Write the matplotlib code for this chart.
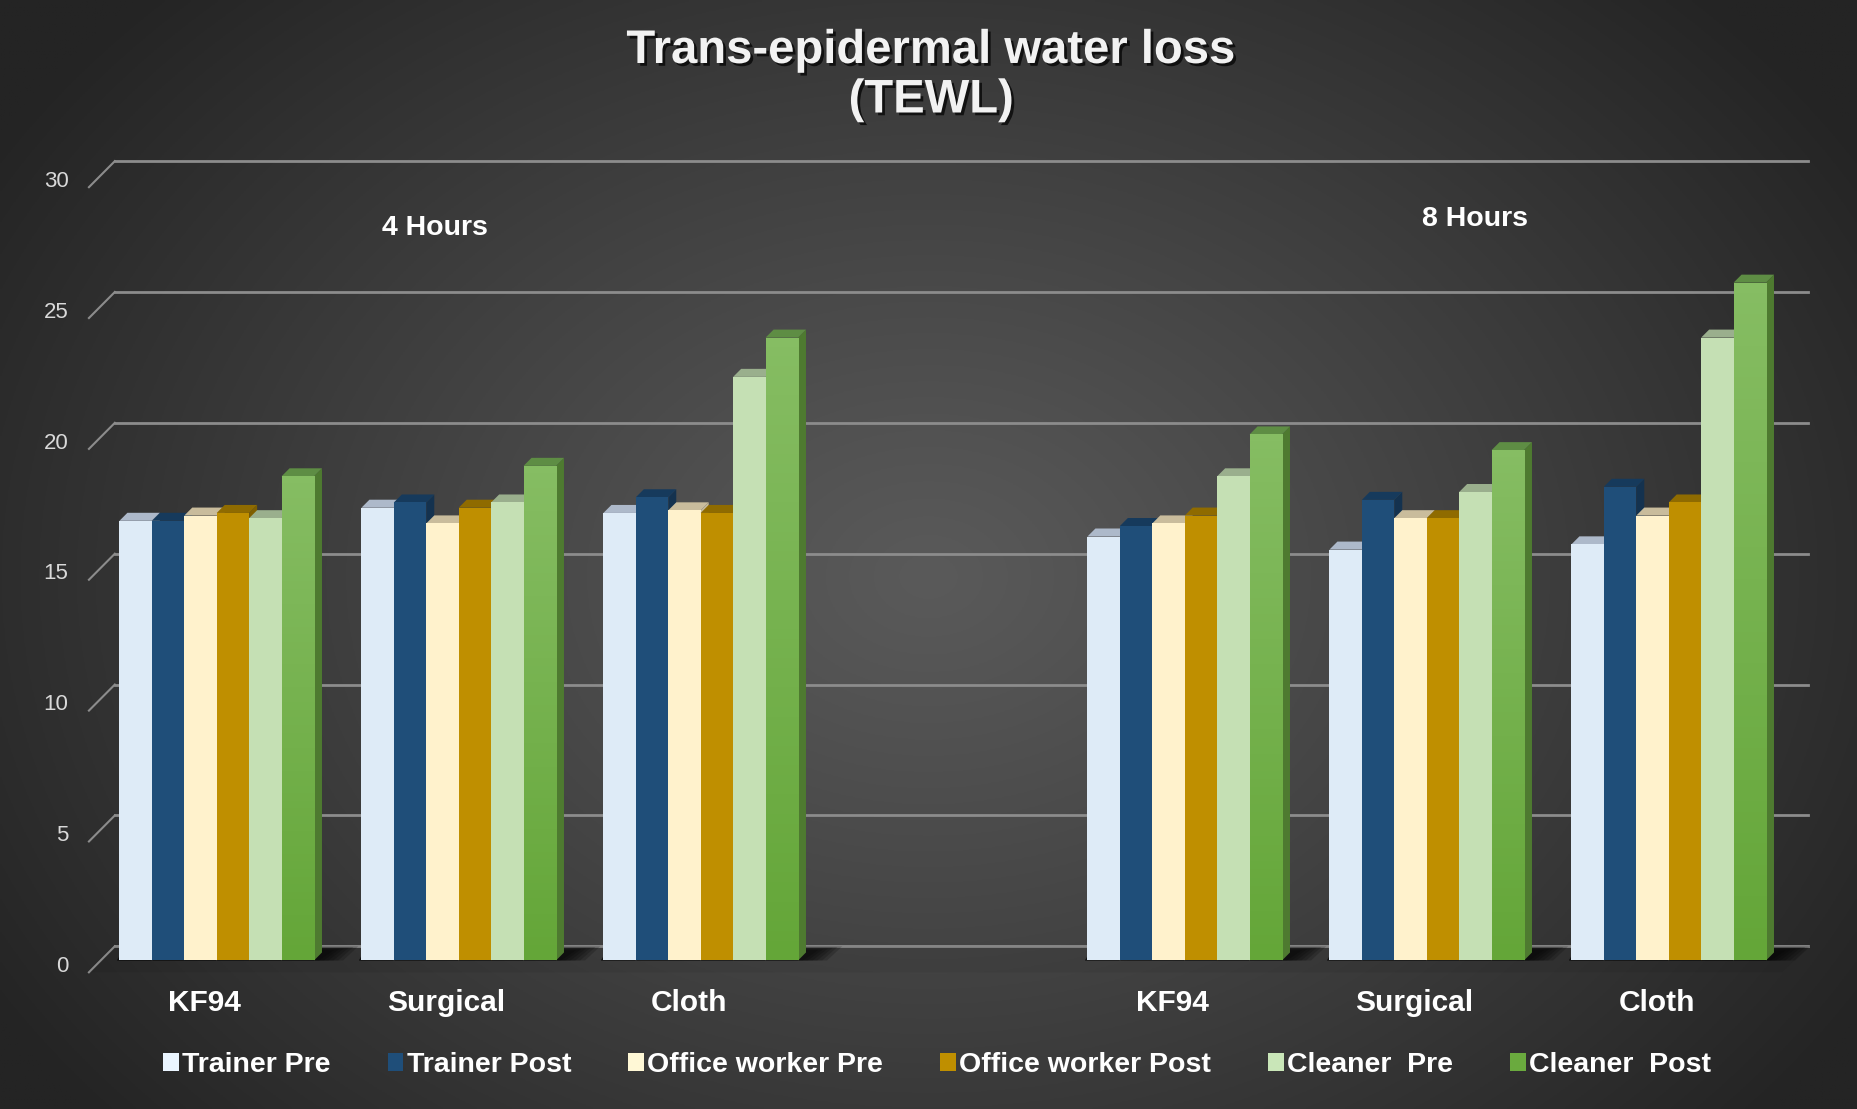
import numpy as np
import matplotlib
matplotlib.use("Agg")
import matplotlib.pyplot as plt
from matplotlib.patches import Rectangle, Polygon, Patch
from matplotlib import patheffects

plt.rcParams['font.family'] = ['Liberation Sans', 'DejaVu Sans']

# ---- data ----
categories = ["KF94", "Surgical", "Cloth", "", "KF94", "Surgical", "Cloth"]
bar_slots = [0, 1, 2, 4, 5, 6]          # slot 3 is the empty gap between 4h and 8h
series_names = ["Trainer Pre", "Trainer Post", "Office worker Pre",
                "Office worker Post", "Cleaner  Pre", "Cleaner  Post"]
trainer_pre = [16.8, 17.3, 17.1, 16.2, 15.7, 15.9]
trainer_post = [16.8, 17.5, 17.7, 16.6, 17.6, 18.1]
office_pre = [17.0, 16.7, 17.2, 16.7, 16.9, 17.0]
office_post = [17.1, 17.3, 17.1, 17.0, 16.9, 17.5]
cleaner_pre = [16.9, 17.5, 22.3, 18.5, 17.9, 23.8]
cleaner_post = [18.5, 18.9, 23.8, 20.1, 19.5, 25.9]
series = [trainer_pre, trainer_post, office_pre, office_post, cleaner_pre, cleaner_post]
yticks = [0, 5, 10, 15, 20, 25, 30]
group_labels = ["4 Hours", "8 Hours"]

# front / top / side colours per series
front_c = ["#DEEBF7", "#1F4E79", "#FFF2CC", "#BF8F00", "#C5E0B4", "#76B04A"]
top_c = ["#ADB9CA", "#163A5C", "#C9BC9C", "#8F6B00", "#9AAF8D", "#5E8D44"]
side_c = ["#A9B6C4", "#14324F", "#C4B899", "#7F5F00", "#93A887", "#4E7A30"]
legend_c = ["#EAF5FF", "#1F4E79", "#FFF8D6", "#BF8F00", "#C9E6B8", "#6AAA3E"]

fig = plt.figure(figsize=(18.57, 11.09), dpi=100)

# radial gradient background
bg = fig.add_axes([0, 0, 1, 1])
yy, xx = np.mgrid[0:1:400j, 0:1:700j]
r = np.sqrt(((xx - 0.5) / 0.55) ** 2 + ((yy - 0.52) / 0.7) ** 2)
val = np.clip(90 - 50 * r ** 1.1, 36, 92) / 255.0
bg.imshow(np.dstack([val, val, val]), extent=[0, 1, 0, 1], aspect='auto', origin='upper')
bg.axis('off')

ax = fig.add_axes([0, 0, 1, 1])
ax.patch.set_alpha(0)
ax.set_xlim(-0.8955, 6.778)
ax.set_ylim(-5.675, 36.70)
ax.axis('off')

# 3D geometry (data units)
back_dx, back_dy = 0.058, 0.543
front_dx, front_dy = -0.05, -0.452
x_back_l, x_back_r = -0.421, 6.577
grid_c = "#8C8C8C"

# back-wall gridlines with slanted ticks to the front edge
for v in yticks:
    ax.plot([x_back_l, x_back_r], [v + back_dy, v + back_dy], color=grid_c, lw=2, zorder=1)
    ax.plot([-0.528, x_back_l], [v + front_dy, v + back_dy], color=grid_c, lw=1.5, zorder=1)
    ax.text(-0.612, v - 0.23, str(v), ha='right', va='center', color="#D9D9D9", fontsize=16)

# floor slab
ax.add_patch(Polygon([[-0.528, front_dy], [x_back_r - 0.107, front_dy],
                      [x_back_r, back_dy], [x_back_l, back_dy]],
                     closed=True, facecolor="black", alpha=0.06, edgecolor='none', zorder=1))

w = 0.134
ddx, ddy = 0.033, 0.306

for gi, s in enumerate(bar_slots):
    x0 = s - 3 * w
    # soft shadow behind the group on the floor
    for k in range(6):
        pad = 0.12 - k * 0.02
        ax.add_patch(Polygon([[x0 - 0.01, 0.0], [x0 + 6 * w + pad, 0.0],
                              [x0 + 6 * w + ddx + pad + 0.03, back_dy - 0.03 * k],
                              [x0 + 0.02, back_dy - 0.03 * k]],
                             closed=True, facecolor="black", alpha=0.18, edgecolor='none', zorder=2))
    for j, vals in enumerate(series):
        h = vals[gi]
        x = x0 + j * w
        ax.add_patch(Polygon([[x + w, 0], [x + w + ddx, ddy], [x + w + ddx, h + ddy], [x + w, h]],
                             closed=True, facecolor=side_c[j], edgecolor='none', zorder=3))
        ax.add_patch(Polygon([[x, h], [x + ddx, h + ddy], [x + w + ddx, h + ddy], [x + w, h]],
                             closed=True, facecolor=top_c[j], edgecolor='none', zorder=3))
        rect = Rectangle((x, 0), w, h, facecolor=front_c[j], edgecolor='none', zorder=3)
        ax.add_patch(rect)
        if j == 5:
            # vertical gradient on the dark green bars
            g = np.linspace(0, 1, 64)[:, None]
            c_top = np.array([0x86, 0xBD, 0x63]) / 255
            c_bot = np.array([0x64, 0xA6, 0x38]) / 255
            img = c_top[None, None, :] * (1 - g[..., None]) + c_bot[None, None, :] * g[..., None]
            im = ax.imshow(img, extent=[x, x + w, 0, h], aspect='auto', origin='upper', zorder=3.1)
            im.set_clip_path(rect)

# category labels on the front edge
for i, lab in enumerate(categories):
    ax.text(i - 0.05, -1.62, lab, ha='center', va='center', color='white',
            fontsize=21.5, fontweight='bold')

ax.text(0.90, 28.0, group_labels[0], ha='center', va='center', color='white',
        fontsize=20.5, fontweight='bold')
ax.text(5.198, 28.32, group_labels[1], ha='center', va='center', color='white',
        fontsize=20.5, fontweight='bold')

shadow = [patheffects.withSimplePatchShadow(offset=(2, -2), shadow_rgbFace='black', alpha=0.7)]
fig.text(0.5015, 1 - 51 / 1109, "Trans-epidermal water loss", ha='center', va='center',
         color='#F2F2F2', fontsize=34, fontweight='bold', path_effects=shadow)
fig.text(0.5015, 1 - 100.5 / 1109, "(TEWL)", ha='center', va='center',
         color='#F2F2F2', fontsize=34, fontweight='bold', path_effects=shadow)

handles = [Patch(facecolor=c, edgecolor='none') for c in legend_c]
leg = fig.legend(handles, series_names, loc='center', bbox_to_anchor=(937 / 1857, 1 - 1065 / 1109),
                 ncol=6, frameon=False, handlelength=0.55, handleheight=0.6,
                 handletextpad=0.12, columnspacing=2.0,
                 prop={'size': 20.5, 'weight': 'bold'})
for t in leg.get_texts():
    t.set_color('white')

fig.savefig("out.png", dpi=100)
